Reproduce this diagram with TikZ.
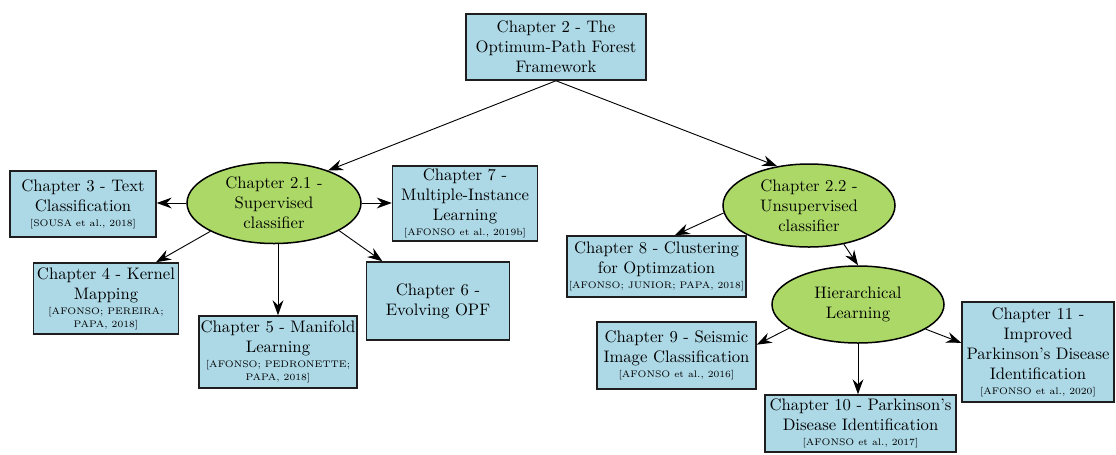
\documentclass[tikz,border=0pt]{standalone}
\usetikzlibrary{shapes.geometric,arrows.meta,calc}

\definecolor{boxblue}{RGB}{173,216,230}
\definecolor{ellgreen}{RGB}{172,216,104}
\definecolor{edgegray}{RGB}{30,30,30}

\newcommand{\refcite}[1]{{\fontsize{5.7}{7.5}\selectfont #1}}

\tikzset{
  box/.style 2 args={draw=edgegray, line width=0.9pt, fill=boxblue,
    rectangle, align=center, inner sep=0pt,
    minimum width=#1*0.6pt, minimum height=#2*0.6pt},
  topic/.style 2 args={draw=black, line width=0.9pt, fill=ellgreen,
    ellipse, align=center, inner sep=0pt,
    minimum width=#1*0.6pt, minimum height=#2*0.6pt},
  link/.style={draw=black, line width=0.55pt,
    -{Stealth[length=9pt,width=6.5pt,inset=3pt]}}
}

\begin{document}
\begin{tikzpicture}[x=0.6pt, y=-0.6pt, font=\fontsize{10}{12}\selectfont]
\useasboundingbox (0,0) rectangle (1116,454);

% root
\node[box={180}{66}] (ch2) at (556,47)
  {Chapter 2 - The\\Optimum-Path Forest\\Framework};

% supervised branch
\node[topic={174}{81}] (ch21) at (274,203)
  {Chapter 2.1 -\\Supervised\\classifier};
\node[box={146}{66}] (ch3) at (83,204)
  {Chapter 3 - Text\\Classification\\[-3pt]\refcite{[SOUSA et al., 2018]}};
\node[box={145}{75}] (ch7) at (465,203.5)
  {Chapter 7 -\\Multiple-Instance\\Learning\\[-3pt]\refcite{[AFONSO et al., 2019b]}};
\node[box={145}{71}] (ch4) at (106,298.5)
  {Chapter 4 - Kernel\\Mapping\\[-3pt]\refcite{[AFONSO; PEREIRA;}\\[-4pt]\refcite{PAPA, 2018]}};
\node[box={158}{72}] (ch5) at (278,352)
  {Chapter 5 - Manifold\\Learning\\[-3pt]\refcite{[AFONSO; PEDRONETTE;}\\[-4pt]\refcite{PAPA, 2018]}};
\node[box={143}{78}] (ch6) at (438,301)
  {Chapter 6 -\\Evolving OPF};

% unsupervised branch
\node[topic={172}{83}] (ch22) at (809,205.5)
  {Chapter 2.2 -\\Unsupervised\\classifier};
\node[box={179}{61}] (ch8) at (656.5,266.5)
  {Chapter 8 - Clustering\\for Optimzation\\[-3pt]\refcite{[AFONSO; JUNIOR; PAPA, 2018]}};
\node[topic={172}{77}] (hier) at (858,304.5)
  {Hierarchical\\Learning};
\node[box={159}{67}] (ch9) at (676.5,355.5)
  {Chapter 9 - Seismic\\Image Classification\\[-3pt]\refcite{[AFONSO et al., 2016]}};
\node[box={191}{57}] (ch10) at (860.5,423.5)
  {Chapter 10 - Parkinson's\\Disease Identification\\[-3pt]\refcite{[AFONSO et al., 2017]}};
\node[box={152}{100}] (ch11) at (1038,352)
  {Chapter 11 -\\Improved\\Parkinson's Disease\\Identification\\[-3pt]\refcite{[AFONSO et al., 2020]}};

% connectors
\draw[link] (ch2.south) -- (ch21.31);
\draw[link] (ch2.south) -- (ch22.129);

\draw[link] (ch21.west) -- (ch21.west -| ch3.east);
\draw[link] (ch21.east) -- (ch21.east -| ch7.west);
\draw[link] (ch21.204) -- ([xshift=30pt]ch4.north);
\draw[link] (ch5.north |- ch21.south) -- (ch5.north);
\draw[link] (ch21.337) -- ([xshift=10pt]ch6.north west);

\draw[link] (ch22.185) -- ([xshift=11pt]ch8.north);
\draw[link] (ch22.312) -- (hier.north);

\draw[link] (hier.199) -- ([yshift=6.5pt]ch9.east);
\draw[link] (hier.south) -- (hier.south |- ch10.north);
\draw[link] (hier.340) -- ([yshift=5.5pt]ch11.west);
\end{tikzpicture}
\end{document}
